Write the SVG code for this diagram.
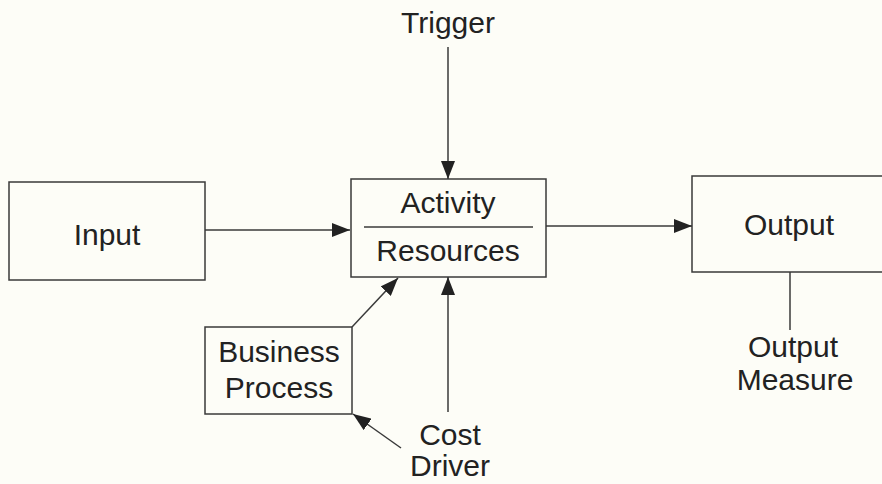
<svg xmlns="http://www.w3.org/2000/svg" width="882" height="484" viewBox="0 0 882 484">
<style>
.box{fill:none;stroke:#3a3a3a;stroke-width:1.5}
.ln{fill:none;stroke:#3a3a3a;stroke-width:1.5}
text{font-family:"Liberation Sans",Arial,sans-serif;font-size:30px;fill:#222;text-anchor:middle}
</style>
<defs>
<marker id="ah" viewBox="0 0 18 14" refX="18" refY="7" markerWidth="18" markerHeight="14" markerUnits="userSpaceOnUse" orient="auto">
<path d="M0,0 L18,7 L0,14 Z" fill="#222"/>
</marker>
</defs>
<rect width="882" height="484" fill="#fdfdf7"/>
<g id="input">
<rect class="box" x="9" y="182" width="196" height="98"/>
<text x="107" y="245">Input</text>
</g>
<g id="activity">
<rect class="box" x="351" y="179" width="195" height="98"/>
<line class="ln" x1="364" y1="227" x2="533" y2="227"/>
<text x="448" y="213">Activity</text>
<text x="448" y="261">Resources</text>
</g>
<g id="output">
<path class="box" d="M890,176 H692 V272 H890"/>
<text x="789" y="235">Output</text>
</g>
<g id="business-process">
<rect class="box" x="205" y="327" width="147" height="87"/>
<text x="279" y="362">Business</text>
<text x="279" y="398">Process</text>
</g>
<g id="trigger">
<text x="448" y="33">Trigger</text>
</g>
<g id="cost-driver">
<text x="450" y="445">Cost</text>
<text x="450" y="476">Driver</text>
</g>
<g id="output-measure">
<text x="793" y="357">Output</text>
<text x="795" y="390">Measure</text>
</g>
<g id="connectors">
<line class="ln" x1="205" y1="230" x2="350" y2="230" marker-end="url(#ah)"/>
<line class="ln" x1="448" y1="47" x2="448" y2="179" marker-end="url(#ah)"/>
<line class="ln" x1="546" y1="226" x2="692" y2="226" marker-end="url(#ah)"/>
<line class="ln" x1="790" y1="272" x2="790" y2="330"/>
<line class="ln" x1="448" y1="412" x2="448" y2="277" marker-end="url(#ah)"/>
<line class="ln" x1="352" y1="327" x2="398" y2="278" marker-end="url(#ah)"/>
<line class="ln" x1="401" y1="448" x2="353" y2="414" marker-end="url(#ah)"/>
</g>
</svg>
